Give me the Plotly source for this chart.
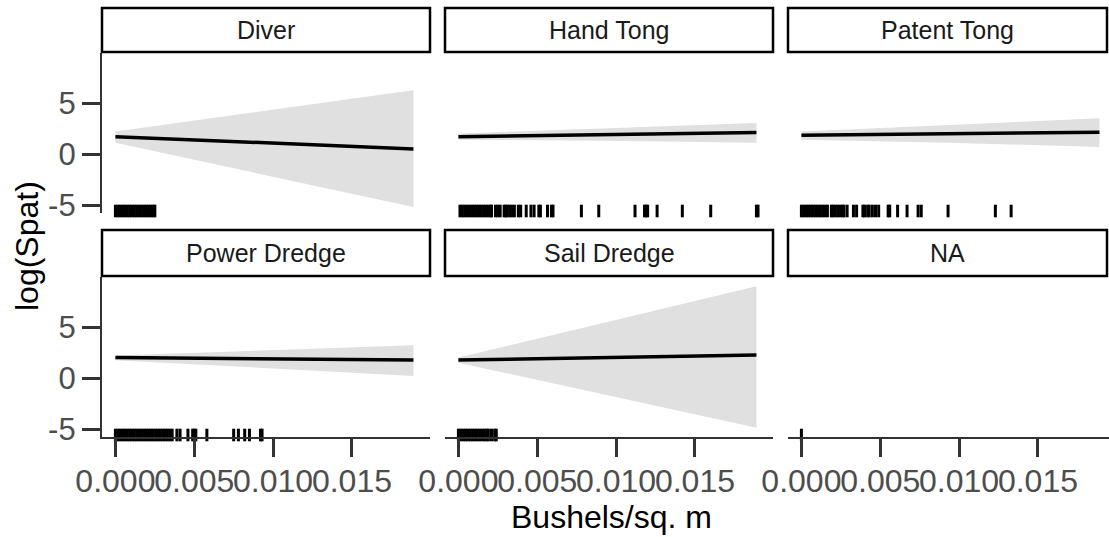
import plotly.graph_objects as go

# ---------------- data ----------------
GEARS = ["Diver", "Hand Tong", "Patent Tong", "Power Dredge", "Sail Dredge", "NA"]
FIT_X = [0.0, 0.0094, 0.0189]

FIT_DIVER = [1.70, 1.10, 0.50]
LO_DIVER = [1.10, -2.05, -5.20]
HI_DIVER = [2.20, 4.20, 6.25]

FIT_HAND = [1.70, 1.90, 2.10]
LO_HAND = [1.40, 1.30, 1.10]
HI_HAND = [2.00, 2.50, 3.05]

FIT_PATENT = [1.85, 2.00, 2.13]
LO_PATENT = [1.40, 1.10, 0.70]
HI_PATENT = [2.20, 2.85, 3.50]

FIT_POWER = [2.00, 1.88, 1.76]
LO_POWER = [1.75, 0.95, 0.20]
HI_POWER = [2.20, 2.70, 3.20]

FIT_SAIL = [1.76, 2.00, 2.25]
LO_SAIL = [1.50, -1.70, -4.87]
HI_SAIL = [2.00, 5.50, 9.00]

RUG_DIVER = [0.0, 0.00015, 0.0003, 0.00045, 0.0006, 0.00075, 0.0009, 0.00105, 0.0012,
             0.00135, 0.0015, 0.00165, 0.0018, 0.00195, 0.0021, 0.00225, 0.0024, 0.0025]
RUG_HAND = [0.0001, 0.00025, 0.0004, 0.00055, 0.0007, 0.00085, 0.001, 0.00115, 0.0013,
            0.00145, 0.0016, 0.00175, 0.0019, 0.00205, 0.0021, 0.00235, 0.0025, 0.00265,
            0.0029, 0.003, 0.0031, 0.00325, 0.0034, 0.00355, 0.0038, 0.00395, 0.0043,
            0.0046, 0.0048, 0.0051, 0.0052, 0.00565, 0.0059, 0.006, 0.0078, 0.0089,
            0.0112, 0.0118, 0.0119, 0.012, 0.0126, 0.0142, 0.016, 0.0189, 0.019]
RUG_PATENT = [0.0, 0.00015, 0.0003, 0.00045, 0.0006, 0.00075, 0.0009, 0.00105, 0.0012,
              0.00135, 0.0015, 0.00165, 0.0019, 0.002, 0.00215, 0.0023, 0.00245, 0.0026,
              0.0027, 0.0029, 0.0033, 0.0035, 0.0039, 0.004, 0.0042, 0.0043, 0.0045,
              0.0047, 0.0049, 0.0055, 0.0056, 0.0061, 0.0067, 0.0074, 0.0076, 0.0093,
              0.0123, 0.0133]
RUG_POWER = [0.0, 0.00015, 0.0003, 0.00045, 0.0006, 0.00075, 0.0009, 0.00105, 0.0012,
             0.00135, 0.0015, 0.00165, 0.0018, 0.00195, 0.0021, 0.00225, 0.0024, 0.00255,
             0.0027, 0.00285, 0.003, 0.00315, 0.0033, 0.00345, 0.0036, 0.0039, 0.0041,
             0.0046, 0.0049, 0.005, 0.0051, 0.0058, 0.0075, 0.0078, 0.0082, 0.0085,
             0.0092, 0.0093]
RUG_SAIL = [0.0, 0.00015, 0.0003, 0.00045, 0.0006, 0.00075, 0.0009, 0.00105, 0.0012,
            0.00135, 0.0015, 0.00165, 0.0018, 0.0019, 0.0021, 0.0023, 0.0024]
RUG_NA = [0.0]

X_TICKS = [0.0, 0.005, 0.010, 0.015]
X_TICK_LABELS = ["0.000", "0.005", "0.010", "0.015"]
Y_TICKS = [-5, 0, 5]
Y_TICK_LABELS = ["-5", "0", "5"]

X_TITLE = "Bushels/sq. m"
Y_TITLE = "log(Spat)"

PANELS = {
    "Diver": (FIT_DIVER, LO_DIVER, HI_DIVER, RUG_DIVER),
    "Hand Tong": (FIT_HAND, LO_HAND, HI_HAND, RUG_HAND),
    "Patent Tong": (FIT_PATENT, LO_PATENT, HI_PATENT, RUG_PATENT),
    "Power Dredge": (FIT_POWER, LO_POWER, HI_POWER, RUG_POWER),
    "Sail Dredge": (FIT_SAIL, LO_SAIL, HI_SAIL, RUG_SAIL),
    "NA": (None, None, None, RUG_NA),
}

# ---------------- layout geometry ----------------
W, H = 1109, 537
FONT = "Liberation Sans, Arial, sans-serif"
COLS = [(102, 430), (445, 773), (788, 1109)]
ROWS = [(53, 213), (277, 437)]
STRIPS_Y = [(8, 52), (230, 276)]
XMIN = -0.00085
PX_PER_X = 328 / 0.0208
Y_RANGE = [-5.78, 9.9]
PX_PER_Y = 160 / (Y_RANGE[1] - Y_RANGE[0])

fig = go.Figure()
layout = dict(
    width=W, height=H, margin=dict(l=0, r=0, t=0, b=0, autoexpand=False),
    paper_bgcolor="white", plot_bgcolor="white", showlegend=False,
    font=dict(family=FONT),
)
shapes = []
annotations = []

for i, gear in enumerate(GEARS):
    r, c = divmod(i, 3)
    n = i + 1
    xa = "x" if n == 1 else f"x{n}"
    ya = "y" if n == 1 else f"y{n}"
    xkey = "xaxis" if n == 1 else f"xaxis{n}"
    ykey = "yaxis" if n == 1 else f"yaxis{n}"
    x0, x1 = COLS[c]
    y0, y1 = ROWS[r]
    xmax = XMIN + (x1 - x0) / PX_PER_X
    bottom_row = (r == 1)
    left_col = (c == 0)
    layout[xkey] = dict(
        domain=[x0 / W, x1 / W], range=[XMIN, xmax], anchor=ya, automargin=False,
        showgrid=False, zeroline=False,
        showline=bottom_row, linecolor="#333333", linewidth=2.2,
        ticks="outside" if bottom_row else "", ticklen=18, tickwidth=3, tickcolor="#333333",
        tickmode="array", tickvals=X_TICKS, ticktext=X_TICK_LABELS, ticklabelstandoff=-4,
        tickangle=0,
        showticklabels=bottom_row, tickfont=dict(size=32, color="#4D4D4D", family=FONT),
    )
    layout[ykey] = dict(
        domain=[1 - y1 / H, 1 - y0 / H], range=Y_RANGE, anchor=xa, automargin=False,
        showgrid=False, zeroline=False,
        showline=left_col, linecolor="#333333", linewidth=2.2,
        ticks="outside" if left_col else "", ticklen=18, tickwidth=3, tickcolor="#333333",
        tickmode="array", tickvals=Y_TICKS, ticktext=Y_TICK_LABELS, tickangle=0,
        showticklabels=left_col, tickfont=dict(size=31, color="#4D4D4D", family=FONT),
    )

    fit, lo, hi, rug = PANELS[gear]
    if fit is not None:
        fig.add_trace(go.Scatter(
            x=FIT_X + FIT_X[::-1], y=hi + lo[::-1], xaxis=xa, yaxis=ya,
            mode="lines", fill="toself", fillcolor="#E0E0E0",
            line=dict(width=0, color="#E0E0E0"), hoverinfo="skip"))
        fig.add_trace(go.Scatter(
            x=FIT_X, y=fit, xaxis=xa, yaxis=ya, mode="lines",
            line=dict(color="black", width=3.5)))
    rug_y = Y_RANGE[0] + 2 / PX_PER_Y
    fig.add_trace(go.Scatter(
        x=rug, y=[rug_y] * len(rug), xaxis=xa, yaxis=ya, mode="markers",
        cliponaxis=False,
        marker=dict(symbol="line-ns", size=9, color="black",
                    line=dict(color="black", width=3))))

    # strip
    sy0, sy1 = STRIPS_Y[r]
    sx1 = min(x1, W - 2)
    shapes.append(dict(
        type="rect", xref="paper", yref="paper",
        x0=x0 / W, x1=sx1 / W, y0=1 - sy1 / H, y1=1 - sy0 / H,
        fillcolor="white", line=dict(color="black", width=2.5), layer="above"))
    annotations.append(dict(
        text=gear, xref="paper", yref="paper",
        x=(x0 + sx1) / 2 / W, y=1 - (sy0 + sy1) / 2 / H,
        xanchor="center", yanchor="middle", showarrow=False,
        font=dict(size=25, color="#1A1A1A", family=FONT)))

annotations.append(dict(
    text=X_TITLE, xref="paper", yref="paper", x=611 / W, y=1 - 517 / H,
    xanchor="center", yanchor="middle", showarrow=False,
    font=dict(size=32, color="black", family=FONT)))
annotations.append(dict(
    text=Y_TITLE, xref="paper", yref="paper", x=27 / W, y=1 - 246 / H,
    xanchor="center", yanchor="middle", showarrow=False, textangle=-90,
    font=dict(size=32, color="black", family=FONT)))

layout["shapes"] = shapes
layout["annotations"] = annotations
fig.update_layout(**layout)
fig.write_html(
    "out.html",
    config={"displayModeBar": False},
    post_script="document.body.style.margin='0px';document.body.style.overflow='hidden';",
)
